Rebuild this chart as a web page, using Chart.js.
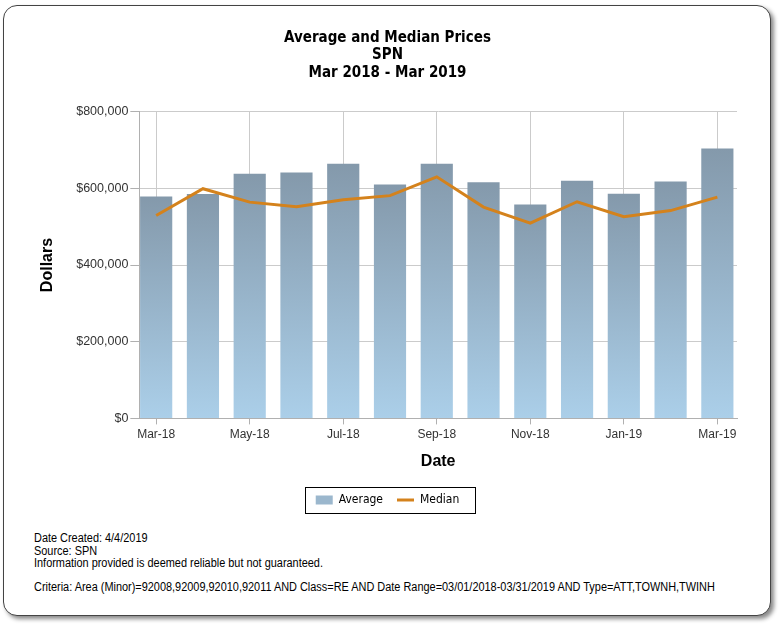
<!DOCTYPE html>
<html>
<head>
<meta charset="utf-8">
<script src="https://cdn.jsdelivr.net/npm/chart.js@4/dist/chart.umd.min.js"></script>
<style>
    body { margin: 0; background: #fff; }
    #frame {
        position: absolute; left: 3px; top: 5px; width: 766px; height: 609px;
        border: 1px solid #444; border-radius: 14px; background: #fff;
        box-shadow: 3px 3px 4px #8a8a8a;
    }
    #wrap { position: absolute; left: 0; top: 0; width: 780px; height: 525px; }
    #footer {
        position: absolute; left: 34px; top: 532px;
        font-family: 'Liberation Sans', sans-serif;
        font-size: 12px; line-height: 12.6px; color: #000;
        white-space: nowrap;
        transform: scaleX(0.91); transform-origin: left top;
    }
    #footer .crit { margin-top: 11px; }
</style>
</head>
<body>
<div id="frame"></div>
<div id="wrap"><canvas id="prices" width="780" height="525"></canvas></div>
<div id="footer">
    <div>Date Created: 4/4/2019</div>
    <div>Source: SPN</div>
    <div>Information provided is deemed reliable but not guaranteed.</div>
    <div class="crit">Criteria: Area (Minor)=92008,92009,92010,92011 AND Class=RE AND Date Range=03/01/2018-03/31/2019 AND Type=ATT,TOWNH,TWINH</div>
</div>
<script>
// ---------------------------------------------------------------------------- données
const months = ['Mar-18', 'Apr-18', 'May-18', 'Jun-18', 'Jul-18', 'Aug-18', 'Sep-18',
                'Oct-18', 'Nov-18', 'Dec-18', 'Jan-19', 'Feb-19', 'Mar-19'];
const average = [579000, 585000, 638000, 641000, 664000, 610000, 664000,
                 616000, 558000, 620000, 586000, 618000, 704000];
const median  = [529000, 599000, 564000, 552000, 570000, 581000, 630000,
                 551000, 509000, 565000, 526000, 542000, 577000];
const yTicks  = [0, 200000, 400000, 600000, 800000];

const money = v => '$' + v.toLocaleString('en-US');

// cadre noir autour de la légende
const legendBox = {
    id: 'legendBox',
    afterDraw: (chart) => {
        const boxes = chart.legend.legendHitBoxes;
        if (!boxes || !boxes.length) return;
        let l = Math.min(...boxes.map(b => b.left)), r = Math.max(...boxes.map(b => b.left + b.width));
        let t = Math.min(...boxes.map(b => b.top)), b2 = Math.max(...boxes.map(b => b.top + b.height));
        const ctx = chart.ctx;
        ctx.save();
        ctx.strokeStyle = '#000';
        ctx.lineWidth = 1;
        ctx.strokeRect(Math.round(l - 11) + 0.5, Math.round(t - 7) + 0.5, Math.round(r - l + 26), Math.round(b2 - t + 14));
        ctx.restore();
    }
};

const barFill = (ctx) => {
    const chart = ctx.chart;
    if (!chart.chartArea || !ctx.parsed) return '#98b4ca';
    const y = chart.scales.y;
    const top = y.getPixelForValue(ctx.parsed.y), base = y.getPixelForValue(0);
    const g = chart.ctx.createLinearGradient(0, top, 0, base);
    g.addColorStop(0, '#8499ab');
    g.addColorStop(1, '#abcfe9');
    return g;
};

const ctx = document.getElementById('prices').getContext('2d');
const myChart = new Chart(ctx, {
    type: 'bar',
    data: {
        datasets: [
            {
                type: 'line',
                label: 'Median',
                data: median.map((v, i) => ({x: i, y: v})),
                borderColor: '#d4821c',
                backgroundColor: '#d4821c',
                borderWidth: 3,
                pointRadius: 0,
                tension: 0,
                order: 0
            },
            {
                label: 'Average',
                data: average.map((v, i) => ({x: i, y: v})),
                backgroundColor: barFill,
                categoryPercentage: 0.8,
                barPercentage: 0.86,
                order: 1
            }
        ]
    },
    options: {
        responsive: false,
        animation: false,
        layout: { padding: { left: 38, right: 43, top: 0, bottom: 9 } },
        scales: {
            x: {
                type: 'linear',
                offset: false,
                min: -0.36,
                max: 12.42,
                grid: { offset: false, color: '#cbcbcb', tickLength: 6, tickColor: '#b0b0b0' },
                border: { color: '#b0b0b0' },
                ticks: {
                    stepSize: 2,
                    includeBounds: false,
                    autoSkip: false,
                    maxRotation: 0,
                    padding: 3,
                    color: '#333',
                    font: { family: 'Liberation Sans', size: 12 },
                    callback: (v) => months[v] ?? ''
                },
                title: {
                    display: true, text: 'Date', color: '#000',
                    font: { family: 'Liberation Sans', size: 16, weight: 'bold' },
                    padding: { top: 7, bottom: 9 }
                }
            },
            y: {
                min: 0,
                max: 800000,
                grid: { color: '#cbcbcb', tickLength: 9, tickColor: '#b0b0b0' },
                border: { color: '#b0b0b0' },
                afterBuildTicks: (axis) => { axis.ticks = yTicks.map(v => ({value: v})); },
                ticks: {
                    padding: 2,
                    color: '#333',
                    font: { family: 'Liberation Sans', size: 12.5 },
                    callback: (v) => money(v)
                },
                title: {
                    display: true, text: 'Dollars', color: '#000',
                    font: { family: 'Liberation Sans', size: 16, weight: 'bold' },
                    padding: { top: 0, bottom: 17 }
                }
            }
        },
        plugins: {
            title: {
                display: true,
                text: ['Average and Median Prices', 'SPN', 'Mar 2018 - Mar 2019'],
                color: '#000',
                font: { family: "'DejaVu Sans Condensed', 'Liberation Sans'", size: 15, weight: 'bold', lineHeight: 1.17 },
                padding: { top: 29, bottom: 30 }
            },
            legend: {
                position: 'bottom',
                reverse: true,
                labels: {
                    color: '#000',
                    font: { family: "'DejaVu Sans Condensed', 'Liberation Sans'", size: 12 },
                    usePointStyle: true,
                    pointStyleWidth: 17,
                    boxHeight: 9,
                    padding: 14,
                    generateLabels: (chart) => {
                        const items = Chart.defaults.plugins.legend.labels.generateLabels(chart);
                        items.forEach(it => {
                            if (it.text === 'Average') {
                                it.pointStyle = 'rect';
                                it.fillStyle = '#9bb7cd';
                                it.strokeStyle = '#9bb7cd';
                                it.lineWidth = 0;
                            } else {
                                it.pointStyle = 'line';
                                it.strokeStyle = '#d4821c';
                                it.lineWidth = 3;
                            }
                        });
                        return items;
                    }
                }
            },
            tooltip: { enabled: false }
        }
    },
    plugins: [legendBox]
});
</script>
</body>
</html>
